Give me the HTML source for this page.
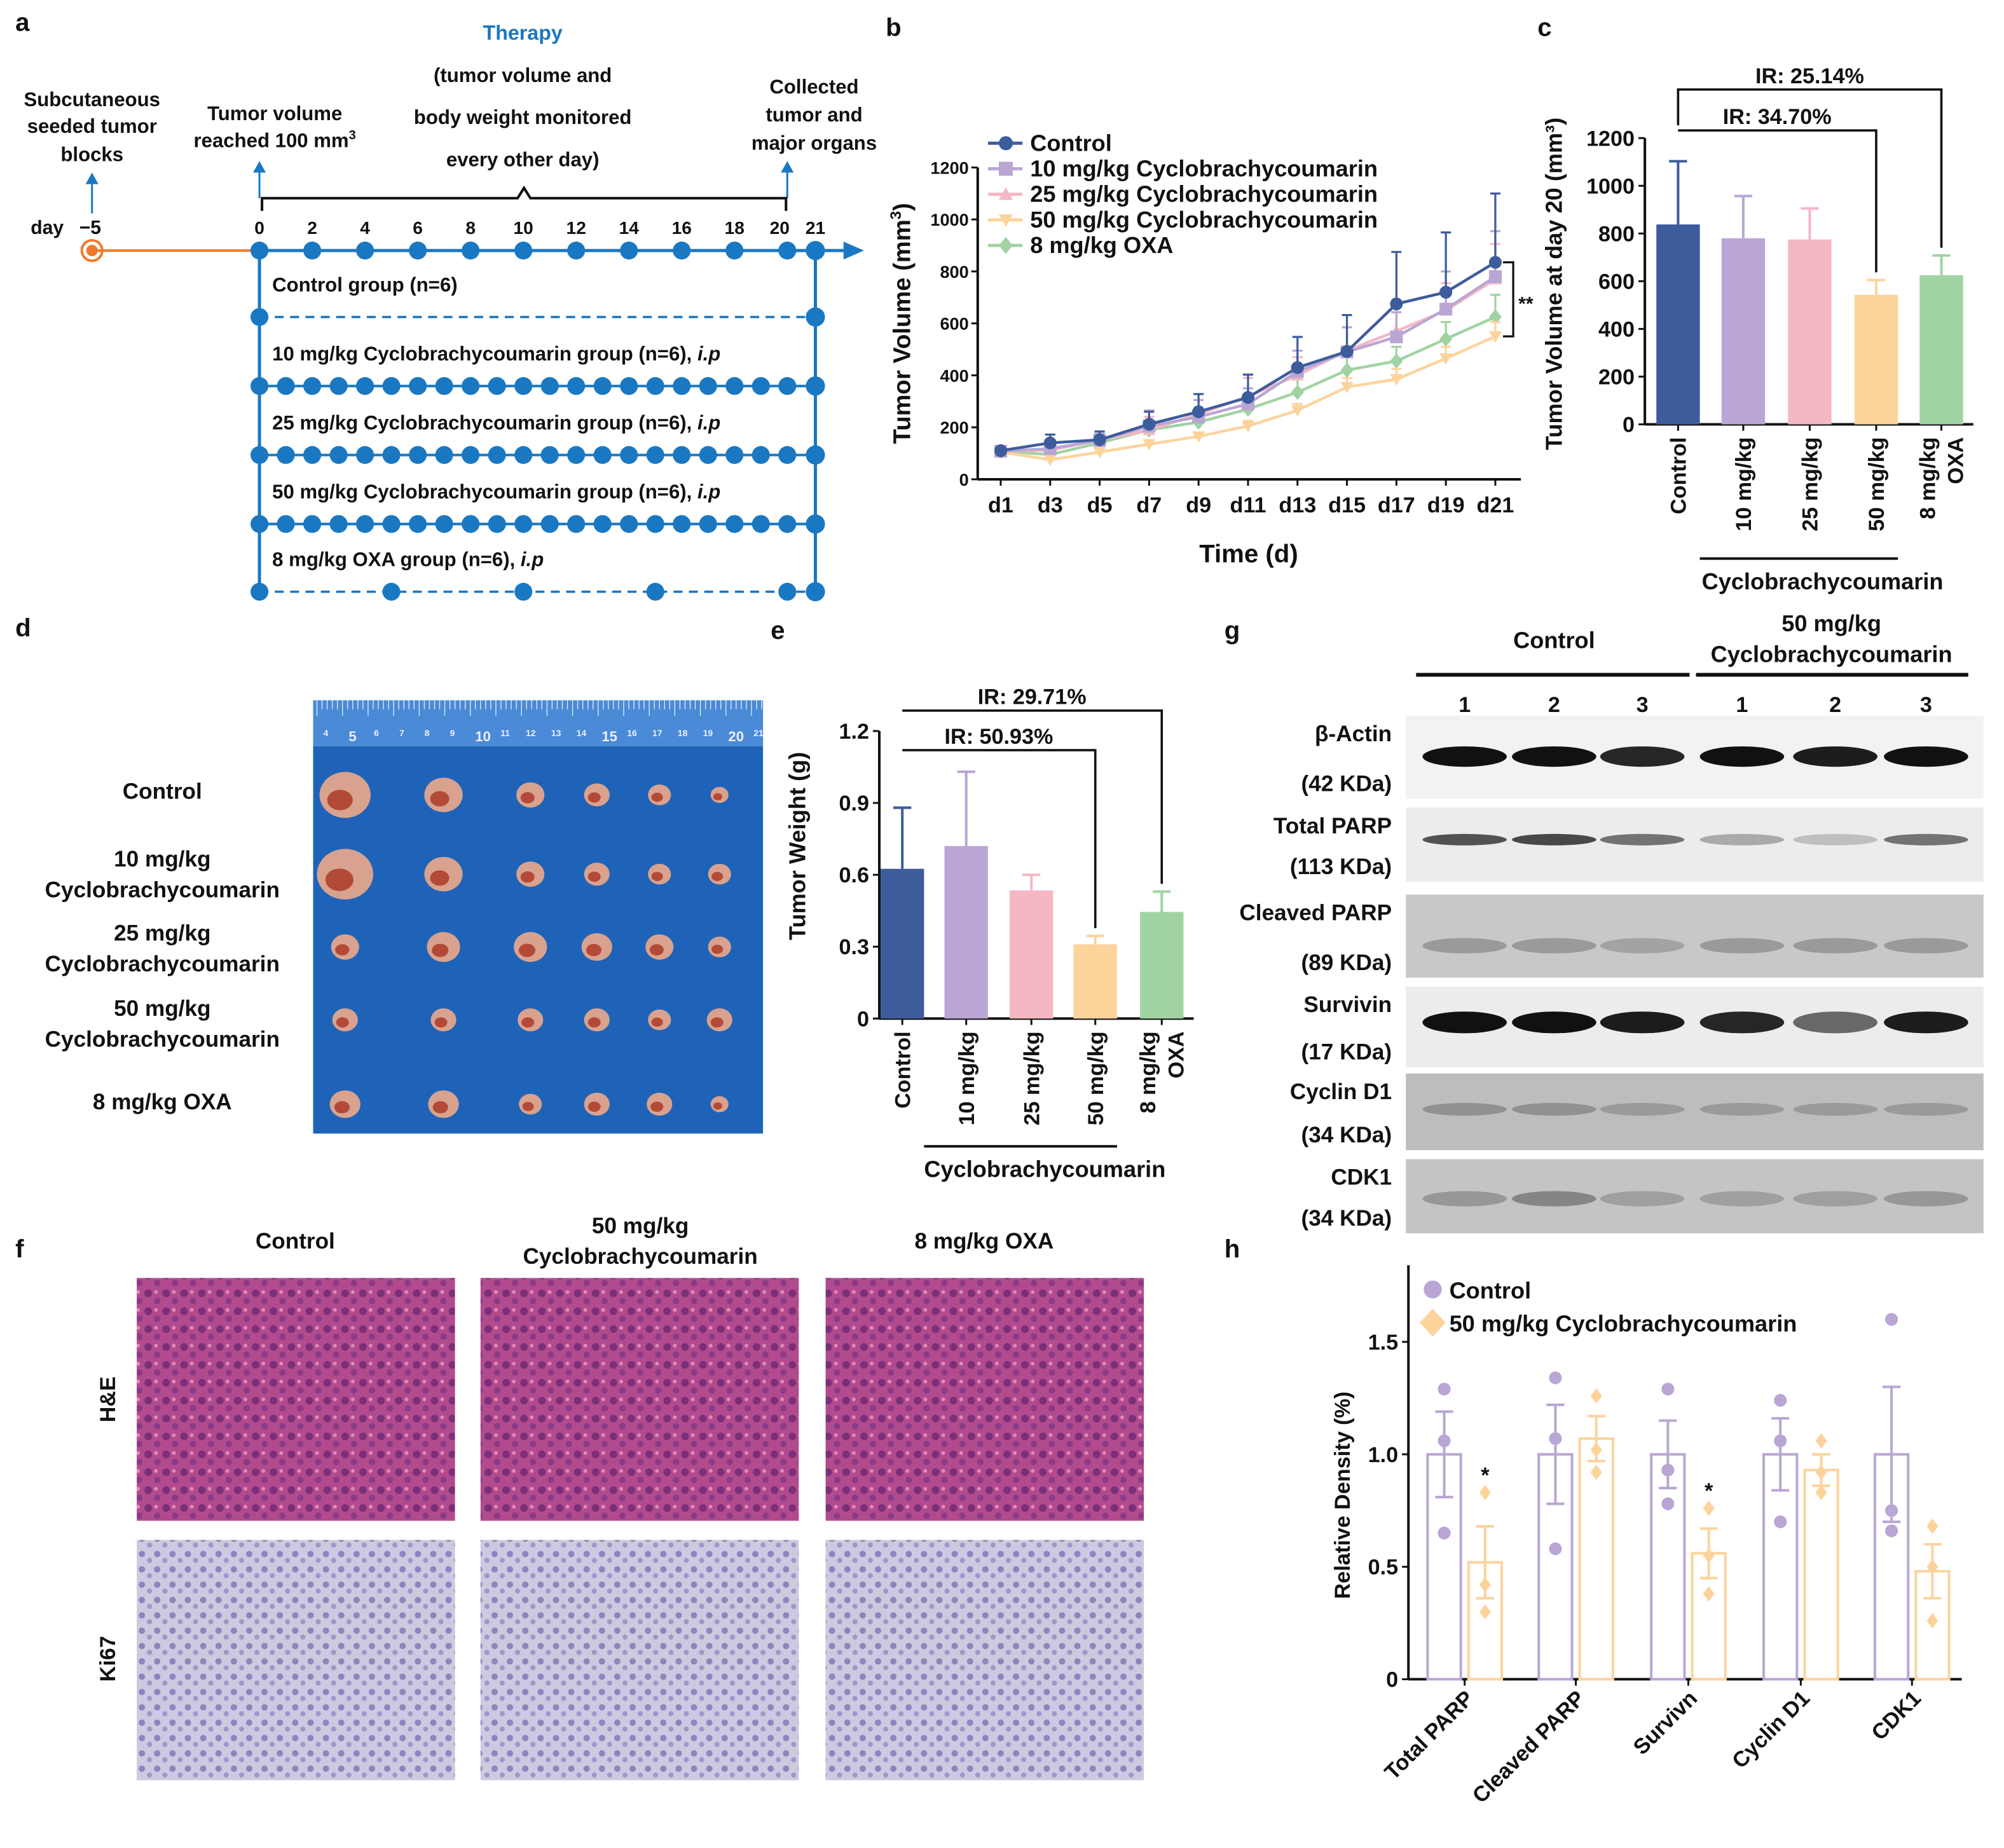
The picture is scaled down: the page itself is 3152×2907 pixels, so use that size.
<!DOCTYPE html>
<html><head><meta charset="utf-8"><style>
html,body{margin:0;padding:0;background:#fff}
svg{display:block}
text{font-family:"Liberation Sans",Arial,sans-serif;font-weight:bold;fill:#111}
</style></head><body>
<svg id="fig" width="3152" height="2907" viewBox="0 0 1568 1446" xmlns="http://www.w3.org/2000/svg">
<defs>
<pattern id="he" width="14" height="14" patternUnits="userSpaceOnUse"><rect width="14" height="14" fill="#b24a8e"/><circle cx="4" cy="4" r="3" fill="#7a2f78"/><circle cx="11" cy="10" r="2.5" fill="#8a3a86"/><circle cx="10" cy="3" r="1.5" fill="#e08ab8"/></pattern>
<pattern id="ki" width="12" height="12" patternUnits="userSpaceOnUse"><rect width="12" height="12" fill="#cdc9e0"/><circle cx="3" cy="4" r="2.5" fill="#8c86bd"/><circle cx="9" cy="9" r="2" fill="#9e98c8"/></pattern>
</defs>

<!-- Panel labels -->
<text x="12" y="24" font-size="20">a</text>
<text x="693" y="28" font-size="20">b</text>
<text x="1203" y="28" font-size="20">c</text>
<text x="12" y="498" font-size="20">d</text>
<text x="603" y="500" font-size="20">e</text>
<text x="958" y="500" font-size="20">g</text>
<text x="12" y="984" font-size="20">f</text>
<text x="958" y="984" font-size="20">h</text>

<g id="panelA"></g>
<g id="panelB"></g>
<g id="panelC"></g>
<g id="panelD"></g>
<g id="panelE"></g>
<g id="panelF"></g>
<g id="panelG"></g>
<g id="panelH"></g>
</svg>
<script>
const NS="http://www.w3.org/2000/svg";
function mk(p,tag,a,txt){const e=document.createElementNS(NS,tag);for(const k in a)e.setAttribute(k,a[k]);if(txt!==undefined)e.textContent=txt;p.appendChild(e);return e;}
const C={ctrl:"#3d5c9c",m10:"#b9a6d4",m25:"#f5b7c4",m50:"#fdd39c",oxa:"#a0d3a2",blue:"#1a78c2"};

// ---- Panel B data
const bDays=["d1","d3","d5","d7","d9","d11","d13","d15","d17","d19","d21"];
const bNames=["Control","10 mg/kg Cyclobrachycoumarin","25 mg/kg Cyclobrachycoumarin","50 mg/kg Cyclobrachycoumarin","8 mg/kg OXA"];
const bCtrl=[110,140,152,212,260,315,430,492,675,720,835];
const bM10=[108,118,150,205,240,290,415,490,548,655,780];
const bM25=[108,112,150,190,250,320,400,495,570,650,770];
const bM50=[105,75,105,135,165,205,265,355,385,465,550];
const bOxa=[108,95,140,190,220,270,335,420,455,540,625];
const bErrCtrl=[10,32,32,48,68,88,118,140,200,230,265];
const bErrM10=[8,20,25,60,65,60,80,95,95,145,175];
const bErrM25=[8,18,22,50,55,70,70,90,90,105,135];
const bErrM50=[6,10,12,15,15,20,25,35,40,45,55];
const bErrOxa=[6,15,18,30,30,40,50,60,55,65,85];
const bTicks=[0,200,400,600,800,1000,1200];
// ---- Panel C
const cCats=["Control","10 mg/kg","25 mg/kg","50 mg/kg","8 mg/kg OXA"];
const cVals=[838,780,775,543,625];
const cErr=[265,177,130,62,83];
const cTicks=[0,200,400,600,800,1000,1200];
// ---- Panel E
const eCats=["Control","10 mg/kg","25 mg/kg","50 mg/kg","8 mg/kg OXA"];
const eVals=[0.625,0.72,0.535,0.31,0.445];
const eErr=[0.255,0.31,0.065,0.035,0.085];
const eTicks=[0,0.3,0.6,0.9,1.2];
// ---- Panel H
const hCats=["Total PARP","Cleaved PARP","Survivn","Cyclin D1","CDK1"];
const hCtrlMean=[1,1,1,1,1];
const hCtrlErr=[0.19,0.22,0.15,0.16,0.30];
const hCtrlPts=[[1.29,1.06,0.65],[1.34,1.07,0.58],[1.29,0.93,0.78],[1.24,1.06,0.70],[1.60,0.75,0.66]];
const hTrtMean=[0.52,1.07,0.56,0.93,0.48];
const hTrtErr=[0.16,0.10,0.11,0.07,0.12];
const hTrtPts=[[0.83,0.42,0.30],[1.26,1.02,0.92],[0.76,0.55,0.38],[1.06,0.92,0.83],[0.68,0.50,0.26]];
const hTicks=[0,0.5,1.0,1.5];
const hSig=["*","","*","",""];

// ================= Panel A =================
(function(){
const g=document.getElementById('panelA');
const dx=d=>203+d*20.65;
let e;
e=mk(g,'line',{x1:72,y1:196,x2:203,y2:196,stroke:"#f07a2a","stroke-width":2});

e=mk(g,'circle',{cx:72,cy:196,r:8,fill:"none",stroke:"#f07a2a","stroke-width":2});

mk(g,'circle',{cx:72,cy:196,r:4.5,fill:"#f07a2a"});
e=mk(g,'line',{x1:203,y1:196,x2:662,y2:196,stroke:C.blue,"stroke-width":2.5});

mk(g,'polygon',{points:"676,196 660,189 660,203",fill:C.blue});
mk(g,'text',{x:24,y:183,"font-size":15},"day");
mk(g,'text',{x:62,y:183,"font-size":15},"−5");
for(let d=0;d<=20;d+=2){mk(g,'circle',{cx:dx(d),cy:196,r:7,fill:C.blue});mk(g,'text',{x:dx(d)+(d==20?-6:0),y:183,"font-size":14,"text-anchor":"middle"},String(d));}
mk(g,'circle',{cx:638,cy:196,r:7.5,fill:C.blue});mk(g,'text',{x:638,y:183,"font-size":14,"text-anchor":"middle"},"21");
// arrows up
[[72,167,135],[203,155,126],[616,155,126]].forEach(a=>{mk(g,'line',{x1:a[0],y1:a[1],x2:a[0],y2:a[2]+6,stroke:C.blue,"stroke-width":1.5});mk(g,'polygon',{points:`${a[0]},${a[2]} ${a[0]-5},${a[2]+9} ${a[0]+5},${a[2]+9}`,fill:C.blue});});
// brace
mk(g,'path',{d:"M205,165 V155 H405 L410,147 L415,155 H615 V165",fill:"none",stroke:"#111","stroke-width":2});
mk(g,'text',{x:72,y:83,"font-size":15.5,"text-anchor":"middle"},"Subcutaneous");
mk(g,'text',{x:72,y:104,"font-size":15.5,"text-anchor":"middle"},"seeded tumor");
mk(g,'text',{x:72,y:126,"font-size":15.5,"text-anchor":"middle"},"blocks");
mk(g,'text',{x:215,y:94,"font-size":15.5,"text-anchor":"middle"},"Tumor volume");
const t=mk(g,'text',{x:215,y:115,"font-size":15.5,"text-anchor":"middle"},"reached 100 mm");
mk(t,'tspan',{"font-size":10,dy:-6},"3");
e=mk(g,'text',{x:409,y:31,"font-size":16,"text-anchor":"middle",style:"fill:"+C.blue},"Therapy");

mk(g,'text',{x:409,y:64,"font-size":15.5,"text-anchor":"middle"},"(tumor volume and");
mk(g,'text',{x:409,y:97,"font-size":15.5,"text-anchor":"middle"},"body weight monitored");
mk(g,'text',{x:409,y:130,"font-size":15.5,"text-anchor":"middle"},"every other day)");
mk(g,'text',{x:637,y:73,"font-size":15.5,"text-anchor":"middle"},"Collected");
mk(g,'text',{x:637,y:95,"font-size":15.5,"text-anchor":"middle"},"tumor and");
mk(g,'text',{x:637,y:117,"font-size":15.5,"text-anchor":"middle"},"major organs");
// group box
mk(g,'line',{x1:203,y1:196,x2:203,y2:463,stroke:C.blue,"stroke-width":2.5});
mk(g,'line',{x1:638,y1:196,x2:638,y2:463,stroke:C.blue,"stroke-width":2.5});
const rows=[[248,"Control group (n=6)","dash",""],[302,"10 mg/kg Cyclobrachycoumarin  group (n=6), ","daily","i.p"],[356,"25 mg/kg Cyclobrachycoumarin group (n=6), ","daily","i.p"],[410,"50 mg/kg Cyclobrachycoumarin group (n=6), ","daily","i.p"],[463,"8 mg/kg OXA group (n=6), ","oxa","i.p"]];
rows.forEach(r=>{
 const y=r[0];
 const tx=mk(g,'text',{x:213,y:y-20,"font-size":15.5},r[1]);
 if(r[3])mk(tx,'tspan',{"font-style":"italic"},r[3]);
 if(r[2]=="dash"||r[2]=="oxa"){mk(g,'line',{x1:203,y1:y,x2:638,y2:y,stroke:C.blue,"stroke-width":1.8,"stroke-dasharray":"7,5"});}
 else mk(g,'line',{x1:203,y1:y,x2:638,y2:y,stroke:C.blue,"stroke-width":2});
 let days=r[2]=="daily"?[...Array(21).keys()]:(r[2]=="oxa"?[0,5,10,15,20]:[0]);
 days.forEach(d=>mk(g,'circle',{cx:dx(d),cy:y,r:7,fill:C.blue}));
 mk(g,'circle',{cx:638,cy:y,r:7.5,fill:C.blue});
});
})();

// ================= Panel B =================
(function(){
const g=document.getElementById('panelB');
const X0=765,Y0=375,xs=i=>783+i*38.7,ys=v=>Y0-v*(244/1200);
mk(g,'line',{x1:X0,y1:Y0,x2:1190,y2:Y0,stroke:"#111","stroke-width":2});
mk(g,'line',{x1:X0,y1:Y0,x2:X0,y2:ys(1200),stroke:"#111","stroke-width":2});
bTicks.forEach(v=>{mk(g,'line',{x1:X0-5,y1:ys(v),x2:X0,y2:ys(v),stroke:"#111","stroke-width":1.5});mk(g,'text',{x:X0-7,y:ys(v)+5,"font-size":13.5,"text-anchor":"end"},String(v));});
bDays.forEach((d,i)=>{mk(g,'line',{x1:xs(i),y1:Y0,x2:xs(i),y2:Y0+5,stroke:"#111","stroke-width":1.5});mk(g,'text',{x:xs(i),y:Y0+26,"font-size":17,"text-anchor":"middle"},d);});
const yt=mk(g,'text',{x:0,y:0,"font-size":19,"text-anchor":"middle",transform:`translate(712,253) rotate(-90)`},"Tumor Volume (mm");
mk(yt,'tspan',{"font-size":12,dy:-7},"3");mk(yt,'tspan',{dy:7},")");

const xt=mk(g,'text',{x:977,y:440,"font-size":20,"text-anchor":"middle"},"Time (d)");

const series=[[bOxa,bErrOxa,C.oxa,'d'],[bM50,bErrM50,C.m50,'v'],[bM25,bErrM25,C.m25,'t'],[bM10,bErrM10,C.m10,'s'],[bCtrl,bErrCtrl,C.ctrl,'c']];
function marker(p,x,y,t,c,s){s=s||5;
 if(t=='c')return mk(p,'circle',{cx:x,cy:y,r:s,fill:c});
 if(t=='s')return mk(p,'rect',{x:x-s,y:y-s,width:2*s,height:2*s,fill:c});
 if(t=='t')return mk(p,'polygon',{points:`${x},${y-s} ${x-s},${y+s*0.8} ${x+s},${y+s*0.8}`,fill:c});
 if(t=='v')return mk(p,'polygon',{points:`${x},${y+s} ${x-s},${y-s*0.8} ${x+s},${y-s*0.8}`,fill:c});
 return mk(p,'polygon',{points:`${x},${y-s*1.2} ${x-s},${y} ${x},${y+s*1.2} ${x+s},${y}`,fill:c});}
series.forEach(s=>{
 const sg=mk(g,'g',{});
 
 s[0].forEach((v,i)=>{const x=xs(i);mk(sg,'line',{x1:x,y1:ys(v),x2:x,y2:ys(v+s[1][i]),stroke:s[2],"stroke-width":1.6});mk(sg,'line',{x1:x-4,y1:ys(v+s[1][i]),x2:x+4,y2:ys(v+s[1][i]),stroke:s[2],"stroke-width":1.6});});
 mk(sg,'polyline',{points:s[0].map((v,i)=>xs(i)+","+ys(v)).join(" "),fill:"none",stroke:s[2],"stroke-width":2.2});
 s[0].forEach((v,i)=>{const m=marker(sg,xs(i),ys(v),s[3],s[2]);});
});
// significance bracket
mk(g,'path',{d:`M1176,${ys(835)} H1184 V${ys(550)} H1176`,fill:"none",stroke:"#111","stroke-width":1.6});
mk(g,'text',{x:1188,y:ys(690)+8,"font-size":15},"**");
// legend
const lg=mk(g,'g',{});
const lm=['c','s','t','v','d'],lc=[C.ctrl,C.m10,C.m25,C.m50,C.oxa];
bNames.forEach((n,i)=>{const y=112+i*20;mk(lg,'line',{x1:773,y1:y,x2:800,y2:y,stroke:lc[i],"stroke-width":2.5});marker(lg,787,y,lm[i],lc[i],5.5);const t=mk(lg,'text',{x:806,y:y+6,"font-size":18},n);});
})();

// generic bar chart for C & E
function barChart(gid,cats,vals,errs,ticks,X0,Y0,top,maxV,cx,bw,fmt,yTitle,cols,brackets,xLab){
 const g=document.getElementById(gid);
 const ys=v=>Y0-(v/maxV)*(Y0-top);
 mk(g,'line',{x1:X0,y1:Y0,x2:cx[4]+bw/2+8,y2:Y0,stroke:"#111","stroke-width":2});
 mk(g,'line',{x1:X0,y1:Y0,x2:X0,y2:top,stroke:"#111","stroke-width":2});
 ticks.forEach(v=>{mk(g,'line',{x1:X0-5,y1:ys(v),x2:X0,y2:ys(v),stroke:"#111","stroke-width":1.5});mk(g,'text',{x:X0-8,y:ys(v)+6,"font-size":17,"text-anchor":"end"},fmt(v));});
 vals.forEach((v,i)=>{
  const b=mk(g,'rect',{x:cx[i]-bw/2,y:ys(v),width:bw,height:Y0-ys(v),fill:cols[i]});
  
  mk(g,'line',{x1:cx[i],y1:ys(v),x2:cx[i],y2:ys(v+errs[i]),stroke:cols[i],"stroke-width":2});
  mk(g,'line',{x1:cx[i]-7,y1:ys(v+errs[i]),x2:cx[i]+7,y2:ys(v+errs[i]),stroke:cols[i],"stroke-width":2});
  mk(g,'line',{x1:cx[i],y1:Y0,x2:cx[i],y2:Y0+5,stroke:"#111","stroke-width":1.5});
  const parts=i==4?["8 mg/kg","OXA"]:[cats[i]];
  parts.forEach((p,k)=>{const tx=cx[i]+6+(parts.length>1?(k*22-11):0);mk(g,'text',{x:0,y:0,"font-size":17,"text-anchor":"end",transform:`translate(${tx},${Y0+10}) rotate(-90)`},p);});
 });
 const yt=mk(g,'text',{x:0,y:0,"font-size":18,"text-anchor":"middle",transform:`translate(${yTitle[1]},${yTitle[2]}) rotate(-90)`},yTitle[0]);
 
 brackets.forEach(b=>{mk(g,'path',{d:`M${cx[0]},${b[0]+b[3]} V${b[0]} H${cx[b[1]]} V${ys(vals[b[1]]+errs[b[1]])-6}`,fill:"none",stroke:"#111","stroke-width":1.8});mk(g,'text',{x:(cx[0]+cx[b[1]])/2,y:b[0]-5,"font-size":17,"text-anchor":"middle"},b[2]);});
 mk(g,'line',{x1:cx[0]+bw/2,y1:xLab[0],x2:cx[3]+bw/2,y2:xLab[0],stroke:"#111","stroke-width":2});
 mk(g,'text',{x:(cx[0]+cx[4])/2+10,y:xLab[0]+24,"font-size":18,"text-anchor":"middle"},"Cyclobrachycoumarin");
}
barChart('panelC',cCats,cVals,cErr,cTicks,1287,332,108,1200,[1313,1364,1416,1468,1519],34,v=>String(v),["Tumor Volume at day 20 (mm³)",1222,222],[C.ctrl,C.m10,C.m25,C.m50,C.oxa],[[70,4,"IR: 25.14%",28],[102,3,"IR: 34.70%",0]],[437]);
barChart('panelE',eCats,eVals,eErr,eTicks,688,797,572,1.2,[706,756,807,857,909],34,v=>v==0?"0":v.toFixed(1),["Tumor Weight (g)",630,662],[C.ctrl,C.m10,C.m25,C.m50,C.oxa],[[556,4,"IR: 29.71%",0],[587,3,"IR: 50.93%",0]],[897]);

// ================= Panel D =================
(function(){
const g=document.getElementById('panelD');
const r=mk(g,'rect',{x:245,y:548,width:352,height:339,fill:"#1e63b8"});

mk(g,'rect',{x:245,y:548,width:352,height:36,fill:"#4a8ad6"});
for(let i=0;i<88;i++)mk(g,'line',{x1:248+i*4,y1:548,x2:248+i*4,y2:i%5==0?560:555,stroke:"#dde8f8","stroke-width":0.7});
for(let n=4;n<=21;n++)mk(g,'text',{x:253+(n-4)*19.8,y:n%5==0?580:576,"font-size":n%5==0?11:7,style:"fill:#eef"},String(n));
const labels=[["Control"],["10 mg/kg","Cyclobrachycoumarin"],["25 mg/kg","Cyclobrachycoumarin"],["50 mg/kg","Cyclobrachycoumarin"],["8 mg/kg OXA"]];
const ly=[[625],[678,702],[736,760],[795,819],[868]];
labels.forEach((l,i)=>l.forEach((s,k)=>mk(g,'text',{x:127,y:ly[i][k],"font-size":17.5,"text-anchor":"middle"},s)));
const sizes=[[20,15,11,10,9,7],[22,15,11,10,9,9],[11,13,13,12,11,9],[10,10,10,10,9,10],[12,12,9,10,10,7]];
const ry=[622,684,741,798,864],rx=[270,347,415,467,516,563];
sizes.forEach((row,i)=>row.forEach((s,j)=>{mk(g,'ellipse',{cx:rx[j],cy:ry[i],rx:s,ry:s*0.9,fill:"#d9a28e"});mk(g,'ellipse',{cx:rx[j]-s*0.2,cy:ry[i]+s*0.2,rx:s*0.5,ry:s*0.4,fill:"#b34a38"});}));
})();

// ================= Panel F =================
(function(){
const g=document.getElementById('panelF');
const tx=[231,501,770],ix=[107,376,646];
mk(g,'text',{x:231,y:977,"font-size":17.5,"text-anchor":"middle"},"Control");
mk(g,'text',{x:501,y:965,"font-size":17.5,"text-anchor":"middle"},"50 mg/kg");
mk(g,'text',{x:501,y:989,"font-size":17.5,"text-anchor":"middle"},"Cyclobrachycoumarin");
mk(g,'text',{x:770,y:977,"font-size":17.5,"text-anchor":"middle"},"8 mg/kg OXA");
mk(g,'text',{x:0,y:0,"font-size":17,"text-anchor":"middle",transform:"translate(90,1095) rotate(-90)"},"H&E");
mk(g,'text',{x:0,y:0,"font-size":17,"text-anchor":"middle",transform:"translate(90,1298) rotate(-90)"},"Ki67");
ix.forEach((x,i)=>{
 let e=mk(g,'rect',{x:x,y:1000,width:249,height:190,fill:"url(#he)"});
 e=mk(g,'rect',{x:x,y:1205,width:249,height:188,fill:"url(#ki)"});
});
})();

// ================= Panel G =================
(function(){
const g=document.getElementById('panelG');
mk(g,'text',{x:1216,y:507,"font-size":18,"text-anchor":"middle"},"Control");
mk(g,'text',{x:1433,y:494,"font-size":18,"text-anchor":"middle"},"50 mg/kg");
mk(g,'text',{x:1433,y:518,"font-size":18,"text-anchor":"middle"},"Cyclobrachycoumarin");
mk(g,'line',{x1:1108,y1:528,x2:1322,y2:528,stroke:"#111","stroke-width":3});
mk(g,'line',{x1:1327,y1:528,x2:1540,y2:528,stroke:"#111","stroke-width":3});
const lanes=[1146,1216,1285,1363,1436,1507];
lanes.forEach((x,i)=>mk(g,'text',{x:x,y:557,"font-size":17,"text-anchor":"middle"},String(i%3+1)));
const rows=[["β-Actin","(42 KDa)",560,625,"#f2f2f2",[1,1,0.9,1,0.95,1],16,592],["Total PARP","(113 KDa)",632,690,"#ececec",[0.7,0.75,0.55,0.3,0.2,0.55],9,657],["Cleaved PARP","(89 KDa)",700,765,"#c8c8c8",[0.25,0.25,0.2,0.25,0.25,0.25],12,740],["Survivin","(17 KDa)",772,835,"#ececec",[1,1,0.95,0.9,0.6,0.95],17,800],["Cyclin D1","(34 KDa)",840,900,"#bdbdbd",[0.25,0.25,0.2,0.2,0.2,0.2],10,868],["CDK1","(34 KDa)",907,965,"#c4c4c4",[0.25,0.35,0.2,0.2,0.2,0.25],12,938]];
rows.forEach(r=>{
 const b=mk(g,'rect',{x:1100,y:r[2],width:452,height:r[3]-r[2],fill:r[4]});
 
 mk(g,'text',{x:1089,y:r[2]+20,"font-size":17.5,"text-anchor":"end"},r[0]);
 mk(g,'text',{x:1089,y:r[3]-6,"font-size":17.5,"text-anchor":"end"},r[1]);
 lanes.forEach((x,i)=>mk(g,'ellipse',{cx:x,cy:r[7],rx:33,ry:r[6]/2,fill:"#111","fill-opacity":r[5][i]}));
});
})();

// ================= Panel H =================
(function(){
const g=document.getElementById('panelH');
const X0=1102,Y0=1314,ys=v=>Y0-v*176,gx=[1130,1217,1305,1393,1480],bw=26,off=32;
mk(g,'line',{x1:X0,y1:Y0,x2:1535,y2:Y0,stroke:"#111","stroke-width":2});
mk(g,'line',{x1:X0,y1:Y0,x2:X0,y2:990,stroke:"#111","stroke-width":2});
hTicks.forEach(v=>{mk(g,'line',{x1:X0-5,y1:ys(v),x2:X0,y2:ys(v),stroke:"#111","stroke-width":1.5});mk(g,'text',{x:X0-8,y:ys(v)+6,"font-size":17,"text-anchor":"end"},v==0?"0":v.toFixed(1));});
const yt=mk(g,'text',{x:0,y:0,"font-size":17,"text-anchor":"middle",transform:"translate(1056,1170) rotate(-90)"},"Relative Density (%)");

function grp(x,mean,err,pts,col,shape){
 const b=mk(g,'rect',{x:x-bw/2,y:ys(mean),width:bw,height:Y0-ys(mean),fill:"none",stroke:col,"stroke-width":2});
 
 mk(g,'line',{x1:x,y1:ys(mean-err),x2:x,y2:ys(mean+err),stroke:col,"stroke-width":2});
 [mean-err,mean+err].forEach(v=>mk(g,'line',{x1:x-7,y1:ys(v),x2:x+7,y2:ys(v),stroke:col,"stroke-width":2}));
 pts.forEach(p=>{const m=shape=='c'?mk(g,'circle',{cx:x,cy:ys(p),r:5,fill:col}):mk(g,'polygon',{points:`${x},${ys(p)-6} ${x-4.5},${ys(p)} ${x},${ys(p)+6} ${x+4.5},${ys(p)}`,fill:col});});
}
hCats.forEach((c,i)=>{
 grp(gx[i],hCtrlMean[i],hCtrlErr[i],hCtrlPts[i],"#b9a6d4",'c');
 grp(gx[i]+off,hTrtMean[i],hTrtErr[i],hTrtPts[i],"#fdd39c",'d');
 if(hSig[i])mk(g,'text',{x:gx[i]+off,y:ys(Math.max(...hTrtPts[i]))-8,"font-size":17,"text-anchor":"middle"},hSig[i]);
 mk(g,'line',{x1:gx[i]+off/2,y1:Y0,x2:gx[i]+off/2,y2:Y0+5,stroke:"#111","stroke-width":1.5});
 mk(g,'text',{x:0,y:0,"font-size":17,"text-anchor":"end",transform:`translate(${gx[i]+off/2+8},${Y0+16}) rotate(-45)`},c);
});
const lg=mk(g,'g',{});
mk(lg,'circle',{cx:1121,cy:1009,r:7,fill:"#b9a6d4"});
mk(lg,'text',{x:1134,y:1016,"font-size":18},"Control");
mk(lg,'polygon',{points:"1121,1024 1111,1035 1121,1046 1131,1035",fill:"#fdd39c"});
mk(lg,'text',{x:1134,y:1042,"font-size":18},"50 mg/kg Cyclobrachycoumarin");
})();
</script>
</body></html>
